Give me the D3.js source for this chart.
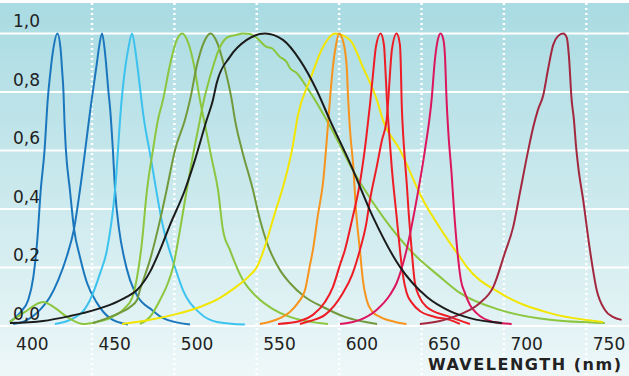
<!DOCTYPE html>
<html>
<head>
<meta charset="utf-8">
<script src="https://cdn.jsdelivr.net/npm/d3@7"></script>
<style>
    body { margin: 0; background: #fff; }
    svg { display: block; }
</style>
</head>
<body>
<div id="chart"></div>
<script>
// wavelength (nm), relative intensity
const blue1 = [[400.2,.014],[406.3,.045],[411.3,.089],[414.4,.167],[416.8,.294],[418.9,.465],[421.2,.6],[423.1,.77],[424.8,.87],[426.6,.95],[429,1],[430.9,.95],[431.8,.88],[432.7,.8],[433.3,.7],[434.2,.6],[436.6,.465],[439.1,.332],[442.7,.236],[447,.147],[453,.079],[460.9,.027],[471.8,.005]];
const blue2 = [[402.1,.007],[408.1,.014],[418.4,.055],[424.5,.099],[429.5,.157],[434.6,.236],[439.1,.332],[442.7,.465],[449.8,.773],[453,.9],[454.2,.95],[456.1,1],[457.6,.95],[458.5,.9],[460,.8],[460.9,.75],[462.7,.6],[464,.465],[466.4,.332],[469.4,.236],[473.1,.157],[477.9,.099],[486.4,.055],[493.1,.027],[509.5,.005]];
const lightBlue = [[427.5,.007],[442.7,.04],[448.8,.089],[454.9,.18],[459.1,.26],[464,.465],[468,.773],[470.6,.9],[472.1,.95],[474.3,1],[476.1,.95],[477.3,.9],[481.6,.704],[485.2,.59],[493.1,.34],[500.4,.2],[505.2,.123],[515.5,.044],[525.8,.014],[542.8,.005]];
const lime = [[400.2,.014],[409.3,.048],[420.3,.082],[427.5,.062],[434.8,.031],[444.5,.007],[453,.014],[460.9,.027],[470,.062],[474.3,.095],[477.3,.165],[480,.27],[483.4,.465],[487,.602],[490,.704],[493.1,.773],[497.3,.892],[501,.971],[504.8,1],[508.2,.971],[511.9,.892],[515.5,.773],[518.6,.687],[522.8,.568],[526.5,.465],[529.5,.328],[533.7,.26],[541.6,.157],[550.1,.099],[559.8,.058],[570.1,.031],[593.2,.007]];
const olive = [[450.6,.01],[464,.038],[473.1,.065],[477.3,.089],[479.1,.123],[485.2,.226],[491.3,.362],[495.3,.465],[500.4,.602],[506.4,.704],[509.5,.773],[513.7,.892],[518,.971],[522,1],[525.8,.971],[530.1,.892],[534.8,.773],[536.8,.704],[541,.602],[547.7,.465],[552,.362],[556.2,.284],[564.1,.191],[570.1,.147],[579.3,.099],[590.2,.065],[603.5,.031],[623,.007]];
const broadGreen = [[479.1,.007],[485.2,.031],[491.3,.089],[496.1,.147],[499.2,.202],[503.4,.328],[507.5,.465],[511.3,.585],[515.5,.704],[517.3,.756],[521.6,.851],[527.7,.954],[532.5,.988],[537.4,.995],[541.6,1],[545.9,.998],[549.9,.985],[556,.954],[559,.95],[564.1,.92],[568.1,.903],[570.1,.882],[574.2,.865],[580.3,.817],[585.3,.773],[592.4,.704],[600.5,.619],[606.6,.55],[615.6,.465],[626.6,.373],[642.9,.26],[661.2,.168],[673.3,.113],[697.6,.055],[727.9,.021],[761.3,.01]];
const white = [[400.2,.01],[420.3,.017],[436.7,.034],[444.5,.044],[460.9,.072],[470,.096],[477.3,.123],[485.2,.185],[491.3,.26],[497.3,.345],[506.4,.465],[512.5,.568],[519.6,.704],[523.4,.773],[525.7,.831],[533.7,.92],[543.9,.978],[555,1],[565.9,.978],[576.2,.909],[586.3,.807],[594.4,.704],[606.6,.557],[620.5,.373],[636.9,.202],[653.3,.099],[667.2,.051],[679.4,.027],[698.8,.01]];
const yellow = [[468.2,.007],[485.2,.021],[503.4,.044],[515.5,.065],[527.7,.096],[535.6,.126],[545.9,.174],[550.1,.202],[553.2,.243],[556.2,.294],[561,.386],[565.9,.475],[571.4,.602],[575,.721],[582.3,.841],[590.2,.954],[597.4,1],[606.6,.978],[614.4,.885],[622.9,.773],[626.6,.704],[636.9,.602],[650.9,.431],[661.2,.335],[667.2,.284],[673.3,.236],[677.5,.202],[697.6,.113],[727.9,.044],[760.1,.014]];
const orange = [[551.9,.007],[564.1,.027],[570.1,.048],[575,.079],[579.3,.123],[582.3,.209],[584.1,.26],[587.1,.379],[590.2,.489],[593.2,.687],[594.4,.773],[596.2,.885],[598.1,.961],[599.9,1],[602.5,.971],[604.6,.885],[605.5,.773],[606.6,.67],[608.6,.544],[610.2,.397],[612.6,.26],[614.4,.157],[616.7,.089],[619.9,.051],[624.8,.031],[633.9,.014],[640.9,.007]];
const red1 = [[562.9,.007],[576.2,.017],[584.1,.038],[591.4,.082],[596.2,.133],[600.5,.209],[603.5,.26],[607.8,.362],[612.6,.489],[616.3,.636],[618.7,.756],[620.5,.858],[622.3,.954],[625.2,1],[627.2,.961],[628.1,.875],[629,.773],[630.2,.67],[631.9,.544],[634.9,.373],[636.9,.26],[638.7,.174],[641,.113],[644.2,.079],[649,.051],[658.1,.031],[667.2,.021],[673.3,.007]];
const red2 = [[576.2,.007],[582.3,.017],[591.4,.038],[602.3,.113],[607.8,.174],[612.6,.26],[616.3,.345],[618.7,.431],[622.8,.544],[626,.636],[628.8,.704],[629.8,.773],[630.8,.858],[632,.944],[634.9,1],[636.9,.961],[637.5,.875],[637.9,.773],[638.7,.67],[639.9,.568],[641,.489],[642.3,.379],[644,.26],[646,.147],[649,.096],[653.1,.065],[667.2,.031],[679.4,.007]];
const crimson = [[600.5,.007],[612.6,.021],[622.7,.055],[630.8,.106],[634.9,.147],[640.9,.26],[647,.431],[652.1,.602],[656.1,.773],[658.1,.909],[659.6,.971],[661.6,1],[663.3,.978],[664.2,.926],[665.2,.773],[666.3,.66],[668.3,.516],[669.7,.397],[672.3,.226],[673.9,.157],[676.3,.113],[679.4,.072],[683.4,.044],[693.5,.014],[704.7,.007]];
const maroon = [[649,.007],[661.2,.017],[667.2,.027],[675.3,.044],[685.4,.079],[693.5,.133],[700.6,.25],[705.6,.338],[709.7,.455],[714.8,.602],[717.8,.68],[720.6,.738],[723.9,.79],[726.7,.875],[729.9,.961],[732.8,.991],[736,1],[738.2,.985],[739.4,.926],[741.1,.773],[742.5,.704],[743.7,.619],[745.1,.544],[748.1,.431],[752.2,.26],[756.3,.123],[761.3,.055],[766.1,.031],[771.4,.021]];

const xTicks = [400, 450, 500, 550, 600, 650, 700, 750];
const yTicks = [0, 0.2, 0.4, 0.6, 0.8, 1.0];
const xTitle = "WAVELENGTH (nm)";

const series = [
    { data: blue1, color: "#1b77bd" },
    { data: blue2, color: "#1b77bd" },
    { data: lightBlue, color: "#3cc2ee" },
    { data: lime, color: "#8cc63f" },
    { data: olive, color: "#729a3c" },
    { data: broadGreen, color: "#8cc63f" },
    { data: yellow, color: "#f2e600" },
    { data: orange, color: "#f7941d" },
    { data: red1, color: "#ee1c25" },
    { data: red2, color: "#ee1c25" },
    { data: crimson, color: "#dc165c" },
    { data: maroon, color: "#a3283f" },
    { data: white, color: "#1c1c1c" }
];

const width = 629, height = 376;

const x = d3.scaleLinear().domain([400, 750]).range([9.6, 586.3]);
const y = d3.scaleLinear().domain([0, 1]).range([326, 33.5]);

const svg = d3.select("#chart").append("svg")
    .attr("width", width)
    .attr("height", height);

// background gradient
const grad = svg.append("defs").append("linearGradient")
    .attr("id", "bg")
    .attr("x1", 0).attr("y1", 0).attr("x2", 0).attr("y2", 1);
grad.append("stop").attr("offset", "0%").attr("stop-color", "#a9dbe2");
grad.append("stop").attr("offset", "87%").attr("stop-color", "#e3f3f5");
grad.append("stop").attr("offset", "100%").attr("stop-color", "#eff8f9");

svg.append("rect")
    .attr("x", 0).attr("y", 3)
    .attr("width", width).attr("height", height - 3)
    .attr("fill", "url(#bg)");

// horizontal grid
svg.append("g")
    .selectAll("line")
    .data(yTicks)
    .enter().append("line")
    .attr("x1", 0).attr("x2", width)
    .attr("y1", d => y(d)).attr("y2", d => y(d))
    .style("stroke", "#fff")
    .style("stroke-width", 2);

// vertical dotted grid
svg.append("g")
    .selectAll("line")
    .data(xTicks.filter(d => d > 400))
    .enter().append("line")
    .attr("x1", d => x(d)).attr("x2", d => x(d))
    .attr("y1", 3).attr("y2", height)
    .style("stroke", "#fff")
    .style("stroke-width", 2.5)
    .style("stroke-dasharray", "2,3");

const line = d3.line()
    .x(d => x(d[0]))
    .y(d => y(d[1]))
    .curve(d3.curveMonotoneX);

svg.append("g")
    .selectAll("path")
    .data(series)
    .enter().append("path")
    .attr("d", d => line(d.data))
    .style("fill", "none")
    .style("stroke", d => d.color)
    .style("stroke-width", 2)
    .style("stroke-linejoin", "round");

const fmt = d3.format(".1f");

svg.append("g")
    .selectAll("text")
    .data(yTicks)
    .enter().append("text")
    .attr("x", 13)
    .attr("y", d => y(d) - 6.5)
    .text(d => fmt(d).replace(".", ","))
    .style("font-family", "'DejaVu Sans', sans-serif")
    .style("font-size", "17px")
    .style("fill", "#222");

svg.append("g")
    .selectAll("text")
    .data(xTicks)
    .enter().append("text")
    .attr("x", d => x(d) + 6.5)
    .attr("y", 350)
    .text(d => d)
    .style("font-family", "'DejaVu Sans', sans-serif")
    .style("font-size", "17px")
    .style("fill", "#222");

svg.append("text")
    .attr("x", 621)
    .attr("y", 369.5)
    .attr("text-anchor", "end")
    .attr("textLength", 193)
    .attr("lengthAdjust", "spacing")
    .text(xTitle)
    .style("font-family", "'DejaVu Sans', sans-serif")
    .style("font-weight", "bold")
    .style("font-size", "16px")
    .style("fill", "#222");
</script>
</body>
</html>
